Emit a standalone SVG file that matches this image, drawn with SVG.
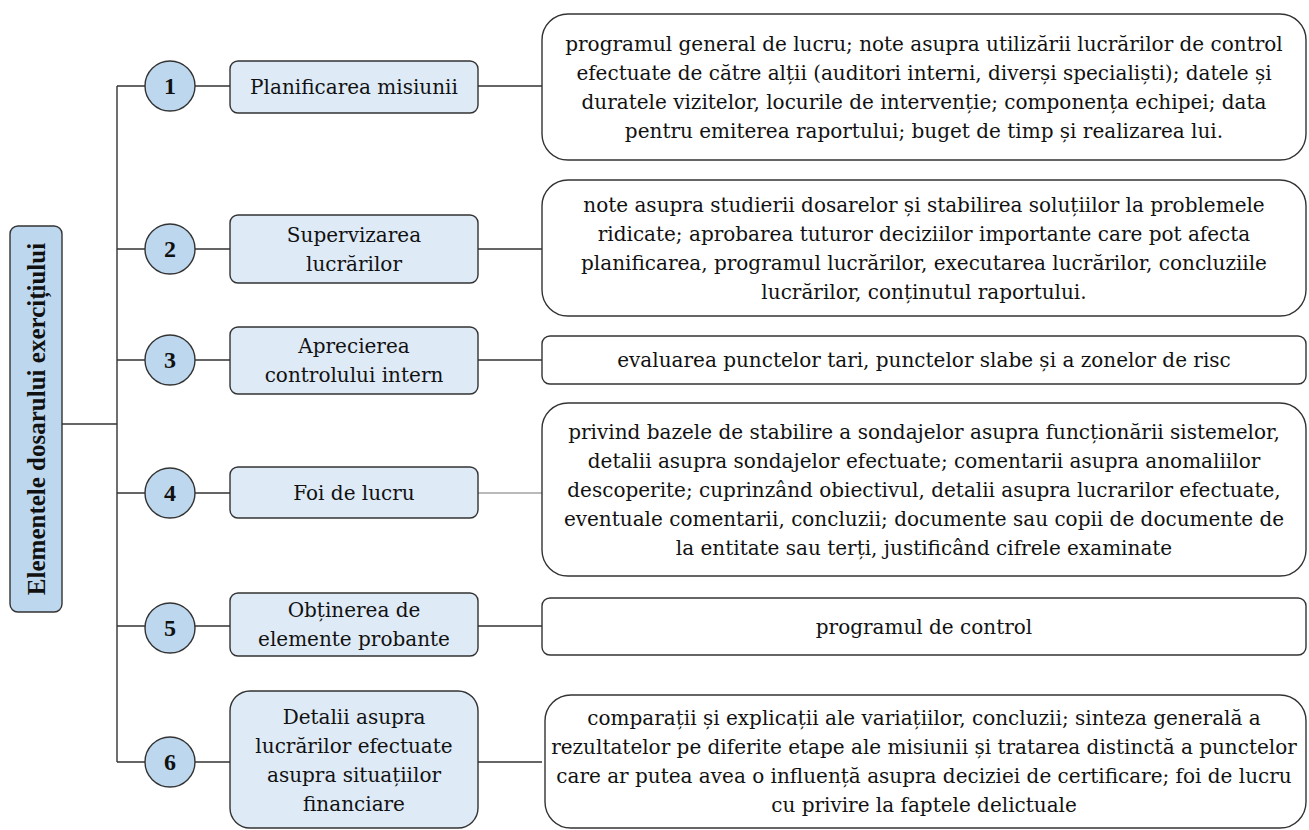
<svg xmlns="http://www.w3.org/2000/svg" width="1309" height="830" viewBox="0 0 1309 830">
  <style>
    .ln { stroke: #333; stroke-width: 1.4; fill: none; }
    .ln-soft { stroke: #777; stroke-width: 1.1; fill: none; }
    .root { fill: #BDD7EE; stroke: #333; stroke-width: 1.4; }
    .num { fill: #BDD7EE; stroke: #333; stroke-width: 1.4; }
    .mid { fill: #DEEAF6; stroke: #333; stroke-width: 1.4; }
    .det { fill: #FFFFFF; stroke: #333; stroke-width: 1.4; }
    text { font-family: "DejaVu Serif", serif; font-size: 20px; fill: #111; text-anchor: middle; }
    text.b { font-family: "Liberation Serif", "DejaVu Serif", serif; font-size: 24px; font-weight: 700; }
    text.title { font-size: 25px; }
  </style>

  <rect width="1309" height="830" fill="#FFFFFF"/>

  <!-- connectors -->
  <g id="connectors">
    <path class="ln" d="M62 424 H117"/>
    <path class="ln" d="M117 86 V762"/>
    <path class="ln" d="M117 86 H145 M117 249 H145 M117 360 H145 M117 493 H145 M117 626 H145 M117 762 H145"/>
    <path class="ln" d="M195 86 H230 M195 249 H230 M195 360 H230 M195 493 H230 M195 626 H230 M195 762 H230"/>
    <path class="ln" d="M478 86 H542 M478 249 H542 M478 360 H542 M478 626 H542 M478 762 H542"/>
    <path class="ln-soft" d="M478 493 H542"/>
  </g>

  <!-- root -->
  <g id="root">
    <rect class="root" x="10" y="226" width="52" height="386" rx="8"/>
    <text class="b title" transform="translate(45,419) rotate(-90)">Elementele dosarului exercițiului</text>
  </g>

  <!-- row 1 -->
  <g id="n1">
    <circle class="num" cx="170" cy="86" r="25"/>
    <text class="b" x="170" y="94">1</text>
  </g>
  <g id="t1">
    <rect class="mid" x="230" y="61" width="248" height="52" rx="8"/>
    <text x="354" y="94">Planificarea misiunii</text>
  </g>
  <g id="d1">
    <rect class="det" x="542" y="14" width="764" height="146" rx="26"/>
    <text x="924" y="51">programul general de lucru; note asupra utilizării lucrărilor de control</text>
    <text x="924" y="80">efectuate de către alții (auditori interni, diverși specialiști); datele și</text>
    <text x="924" y="109">duratele vizitelor, locurile de intervenție; componența echipei; data</text>
    <text x="924" y="138">pentru emiterea raportului; buget de timp și realizarea lui.</text>
  </g>

  <!-- row 2 -->
  <g id="n2">
    <circle class="num" cx="170" cy="249" r="25"/>
    <text class="b" x="170" y="257">2</text>
  </g>
  <g id="t2">
    <rect class="mid" x="230" y="215" width="248" height="68" rx="8"/>
    <text x="354" y="242">Supervizarea</text>
    <text x="354" y="271">lucrărilor</text>
  </g>
  <g id="d2">
    <rect class="det" x="542" y="180" width="764" height="136" rx="26"/>
    <text x="924" y="212">note asupra studierii dosarelor și stabilirea soluțiilor la problemele</text>
    <text x="924" y="241">ridicate; aprobarea tuturor deciziilor importante care pot afecta</text>
    <text x="924" y="270">planificarea, programul lucrărilor, executarea lucrărilor, concluziile</text>
    <text x="924" y="299">lucrărilor, conținutul raportului.</text>
  </g>

  <!-- row 3 -->
  <g id="n3">
    <circle class="num" cx="170" cy="360" r="25"/>
    <text class="b" x="170" y="368">3</text>
  </g>
  <g id="t3">
    <rect class="mid" x="230" y="327" width="248" height="67" rx="8"/>
    <text x="354" y="353">Aprecierea</text>
    <text x="354" y="382">controlului intern</text>
  </g>
  <g id="d3">
    <rect class="det" x="542" y="336" width="764" height="48" rx="8"/>
    <text x="924" y="367">evaluarea punctelor tari, punctelor slabe și a zonelor de risc</text>
  </g>

  <!-- row 4 -->
  <g id="n4">
    <circle class="num" cx="170" cy="493" r="25"/>
    <text class="b" x="170" y="501">4</text>
  </g>
  <g id="t4">
    <rect class="mid" x="230" y="467" width="248" height="51" rx="8"/>
    <text x="354" y="500">Foi de lucru</text>
  </g>
  <g id="d4">
    <rect class="det" x="542" y="403" width="764" height="173" rx="26"/>
    <text x="924" y="439">privind bazele de stabilire a sondajelor asupra funcționării sistemelor,</text>
    <text x="924" y="468">detalii asupra sondajelor efectuate; comentarii asupra anomaliilor</text>
    <text x="924" y="497">descoperite; cuprinzând obiectivul, detalii asupra lucrarilor efectuate,</text>
    <text x="924" y="526">eventuale comentarii, concluzii; documente sau copii de documente de</text>
    <text x="924" y="555">la entitate sau terți, justificând cifrele examinate</text>
  </g>

  <!-- row 5 -->
  <g id="n5">
    <circle class="num" cx="170" cy="628" r="25"/>
    <text class="b" x="170" y="636">5</text>
  </g>
  <g id="t5">
    <rect class="mid" x="230" y="593" width="248" height="63" rx="8"/>
    <text x="354" y="617">Obținerea de</text>
    <text x="354" y="646">elemente probante</text>
  </g>
  <g id="d5">
    <rect class="det" x="542" y="598" width="764" height="57" rx="8"/>
    <text x="924" y="634">programul de control</text>
  </g>

  <!-- row 6 -->
  <g id="n6">
    <circle class="num" cx="170" cy="762" r="25"/>
    <text class="b" x="170" y="770">6</text>
  </g>
  <g id="t6">
    <rect class="mid" x="230" y="691" width="248" height="137" rx="20"/>
    <text x="354" y="724">Detalii asupra</text>
    <text x="354" y="753">lucrărilor efectuate</text>
    <text x="354" y="782">asupra situațiilor</text>
    <text x="354" y="811">financiare</text>
  </g>
  <g id="d6">
    <rect class="det" x="545" y="695" width="761" height="133" rx="26"/>
    <text x="924" y="725">comparații și explicații ale variațiilor, concluzii; sinteza generală a</text>
    <text x="924" y="754">rezultatelor pe diferite etape ale misiunii și tratarea distinctă a punctelor</text>
    <text x="924" y="783">care ar putea avea o influență asupra deciziei de certificare; foi de lucru</text>
    <text x="924" y="812">cu privire la faptele delictuale</text>
  </g>
</svg>
